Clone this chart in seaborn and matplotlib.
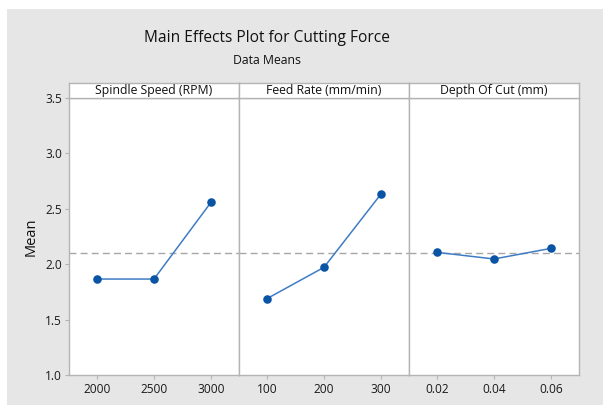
import matplotlib
matplotlib.use("Agg")
import matplotlib.pyplot as plt
import seaborn as sns
import pandas as pd
from matplotlib.patches import Rectangle

sns.set_theme(style="white")
plt.rcParams['font.family'] = ['Open Sans', 'DejaVu Sans']

# Data
factors = ["Spindle Speed (RPM)", "Feed Rate (mm/min)", "Depth Of Cut (mm)"]
spindle_levels = ["2000", "2500", "3000"]
spindle_means = [1.866, 1.866, 2.559]
feed_levels = ["100", "200", "300"]
feed_means = [1.689, 1.972, 2.634]
depth_levels = ["0.02", "0.04", "0.06"]
depth_means = [2.107, 2.047, 2.143]
overall_mean = 2.097
y_ticks = [1.0, 1.5, 2.0, 2.5, 3.0, 3.5]

W, H = 603, 405
fig = plt.figure(figsize=(W / 100, H / 100), dpi=100, facecolor="white")
fig.patches.append(Rectangle((7 / W, 0), 1 - 7 / W, 1 - 9 / H, transform=fig.transFigure,
                             facecolor="#e6e6e6", edgecolor="none", zorder=-10))

def fx(px):
    return px / W

def fy(py):
    return 1 - py / H

left, pw = 69, 170
top, bottom = 98, 375
strip_top = 83
edge = "#b4b4b4"
blue = "#0a54a5"
line_blue = "#3f7cc4"

levels_list = [spindle_levels, feed_levels, depth_levels]
means_list = [spindle_means, feed_means, depth_means]

for i, (fac, lev, mv) in enumerate(zip(factors, levels_list, means_list)):
    x0 = left + i * pw
    ax = fig.add_axes([fx(x0), fy(bottom), pw / W, (bottom - top) / H])
    df = pd.DataFrame({"level": lev, "mean": mv})
    ax.plot(range(3), mv, color=line_blue, lw=1.1, zorder=2)
    sns.scatterplot(data=df, x="level", y="mean", ax=ax, color=blue, s=38,
                    edgecolor=blue, linewidth=0, zorder=3)
    ax.axhline(overall_mean, color="#a6a6a6", lw=1.0, ls=(0, (5, 3)), zorder=1)
    ax.set_xlim(-0.49, 2.49)
    ax.set_ylim(1.0, 3.5)
    ax.set_xlabel("")
    ax.set_ylabel("")
    ax.set_facecolor("white")
    for s in ax.spines.values():
        s.set_color(edge)
        s.set_linewidth(1.0)
    ax.set_xticks(range(3))
    ax.set_xticklabels(lev, fontsize=8.6, color="#1a1a1a")
    ax.tick_params(axis="x", length=3, width=0.8, color=edge, pad=3, bottom=True)
    if i == 0:
        ax.set_yticks(y_ticks)
        ax.set_yticklabels([f"{t:.1f}" for t in y_ticks], fontsize=8.6, color="#1a1a1a")
        ax.tick_params(axis="y", length=3, width=0.8, color=edge, pad=2, left=True)
        ax.set_ylabel("Mean", fontsize=10.5, color="#111111", labelpad=5)
    else:
        ax.set_yticks(y_ticks)
        ax.tick_params(axis="y", left=False, labelleft=False)
    # strip
    sax = fig.add_axes([fx(x0), fy(top), pw / W, (top - strip_top) / H])
    sax.set_facecolor("white")
    sax.set_xticks([])
    sax.set_yticks([])
    for s in sax.spines.values():
        s.set_color(edge)
        s.set_linewidth(1.0)
    sax.text(0.5, 0.5, fac, ha="center", va="center", fontsize=8.8, color="#111111",
             transform=sax.transAxes)

fig.text(fx(267), fy(38), "Main Effects Plot for Cutting Force", ha="center", va="center",
         fontsize=11.2, color="#111111", fontweight="medium")
fig.text(fx(267), fy(60), "Data Means", ha="center", va="center",
         fontsize=8.8, color="#111111")

fig.savefig("out.png", dpi=100, facecolor=fig.get_facecolor())
